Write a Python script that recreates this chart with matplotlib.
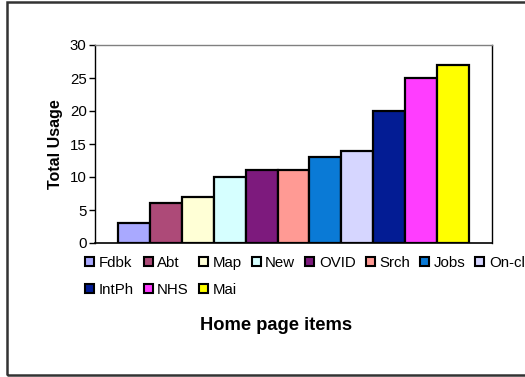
import numpy as np
import matplotlib.pyplot as plt
from matplotlib.patches import Rectangle

plt.rcParams['font.family'] = ['Liberation Sans', 'DejaVu Sans']

# data
items = ["Fdbk", "Abt", "Map", "New", "OVID", "Srch", "Jobs", "On-cl", "IntPh", "NHS", "Mai"]
usage = [3, 6, 7, 10, 11, 11, 13, 14, 20, 25, 27]
colors = ["#A9A9FF", "#AD4A78", "#FFFFD6", "#D6FFFF", "#7D1A7D", "#FF9A94",
          "#0A7AD6", "#D6D6FF", "#031C94", "#FF3DFF", "#FFFF00"]
yticks = [0, 5, 10, 15, 20, 25, 30]

fig = plt.figure(figsize=(5.25, 3.77), dpi=100)
W, H = 525, 377

# outer chart frame
fig.patches.append(Rectangle((7 / W, 2 / H), 530 / W, 373 / H, transform=fig.transFigure,
                             fill=False, edgecolor="#333333", linewidth=1.8))

ax = fig.add_axes([95 / W, 1 - 243 / H, (492 - 95) / W, (243 - 45) / H])

x = np.arange(len(items))
bars = ax.bar(x, usage, width=1.0, color=colors, edgecolor="black", linewidth=1.6,
              label=items, zorder=3)

gap = 23 / 32
ax.set_xlim(-0.5 - gap, len(items) - 0.5 + gap)
ax.set_ylim(0, 30)
ax.set_yticks(yticks)
ax.set_xticks([])
ax.tick_params(axis="y", direction="out", length=4, width=1, labelsize=10.8, pad=2)

ax.spines["top"].set_color("#808080")
for side in ["right", "left", "bottom"]:
    ax.spines[side].set_color("#000000")
ax.spines["top"].set_linewidth(1)
ax.spines["right"].set_linewidth(1)
ax.spines["left"].set_linewidth(1)
ax.spines["bottom"].set_linewidth(1.2)

ax.set_ylabel("Total Usage", fontsize=11.5, fontweight="bold", labelpad=5)

# legend: row-major order for 8 columns
order = [0, 8, 1, 9, 2, 10, 3, 4, 5, 6, 7]
handles = [bars[i] for i in order]
labels = [items[i] for i in order]
leg = ax.legend(handles, labels, ncol=8, loc="upper left",
                bbox_to_anchor=(85 / W, 1 - 256 / H), bbox_transform=fig.transFigure,
                frameon=False, fontsize=10.8, handlelength=0.6, handleheight=0.6,
                handletextpad=0.3, columnspacing=0.67, labelspacing=0.85,
                borderpad=0, borderaxespad=0)
for h in leg.legend_handles:
    h.set_linewidth(1.5)

fig.text(276 / W, 1 - 326 / H, "Home page items", ha="center", va="center",
         fontsize=13.2, fontweight="bold")

fig.savefig("out.png", dpi=100)
